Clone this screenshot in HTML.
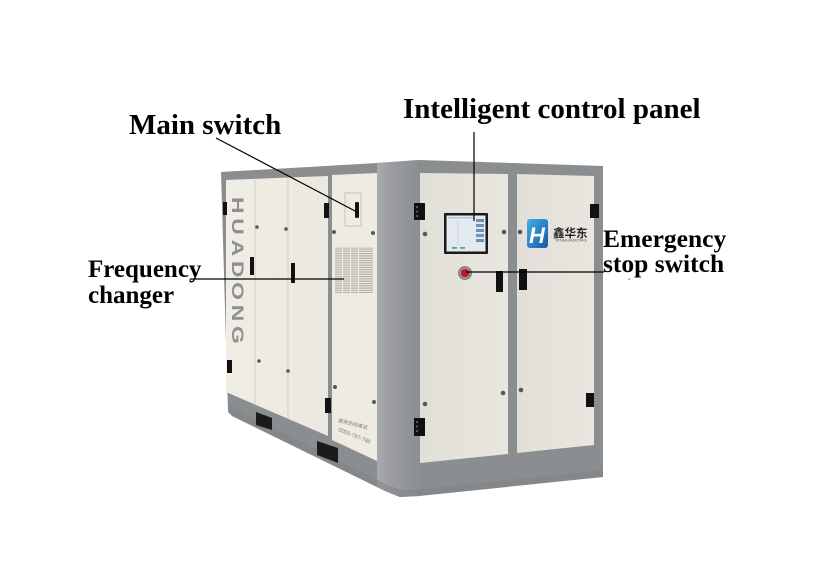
<!DOCTYPE html>
<html><head><meta charset="utf-8">
<style>
html,body{margin:0;padding:0;background:#fff;}
svg{display:block;}
.lbl{font-family:"Liberation Serif",serif;font-weight:bold;fill:#000;}
</style></head><body>
<svg width="822" height="574" viewBox="0 0 822 574" xmlns="http://www.w3.org/2000/svg">
<defs>
<linearGradient id="corner" x1="0" x2="1" y1="0" y2="0">
<stop offset="0" stop-color="#a9abad"/>
<stop offset="0.35" stop-color="#9a9c9f"/>
<stop offset="1" stop-color="#8c8f92"/>
</linearGradient>
<linearGradient id="rdoor" x1="0" x2="1" y1="0" y2="0">
<stop offset="0" stop-color="#e1dfd8"/><stop offset="1" stop-color="#e8e6df"/>
</linearGradient>
<linearGradient id="ldoor" x1="0" x2="1" y1="0" y2="0">
<stop offset="0" stop-color="#f0ede4"/><stop offset="1" stop-color="#ebe8df"/>
</linearGradient>
<pattern id="vent" width="8" height="2.3" patternUnits="userSpaceOnUse">
<rect width="8" height="1.2" fill="#b3b0a8"/>
</pattern>
<linearGradient id="logo" x1="0" y1="0" x2="1" y2="1"><stop offset="0" stop-color="#45aee8"/><stop offset="1" stop-color="#1458a8"/></linearGradient>
</defs>

<!-- silhouette -->
<path d="M221,172 L377,163 L419,160 L603,166 L603,477 L419,496 L400,497 L385,491 L232,416 L228,412 Z" fill="#8b8e91"/>
<!-- corner column -->
<path d="M377,163 L419,160 L419,496 L400,497 L385,491 L377,487 Z" fill="url(#corner)"/>
<!-- base bottom shading -->
<path d="M228,405 L232,416 L385,491 L400,497 L419,496 L603,477 L603,470 L419,489 L400,490 L386,484 Z" fill="#7f8286" opacity="0.5"/>

<!-- left face panels -->
<path d="M226,180 L328,176 L328,436 L226,392 Z" fill="url(#ldoor)"/>
<path d="M332,175 L377,173 L377,461 L332,440 Z" fill="#eeebe2"/>
<line x1="255" y1="179" x2="255" y2="404" stroke="#d2cec4" stroke-width="1"/>
<line x1="288" y1="178" x2="288" y2="419" stroke="#d2cec4" stroke-width="1"/>

<!-- holes in base -->
<path d="M256,412 L272,418 L272,430 L256,425 Z" fill="#1b1b1b"/>
<path d="M317,441 L338,448 L338,463 L317,455 Z" fill="#1b1b1b"/>

<!-- right face doors -->
<path d="M420,173 L508,174 L508,454 L420,463 Z" fill="url(#rdoor)"/>
<path d="M517,174 L594,176 L594,445 L517,453 Z" fill="url(#rdoor)"/>

<!-- HUADONG -->
<text transform="translate(232,197) rotate(90) scale(1.35,1)" font-family="Liberation Sans, sans-serif" font-weight="bold" font-size="17" letter-spacing="3.5" fill="#8f8f8f">HUADONG</text>

<!-- vents -->
<rect x="335" y="247" width="7" height="46" fill="url(#vent)"/>
<rect x="343" y="247" width="7" height="46" fill="url(#vent)"/>
<rect x="351" y="247" width="7" height="46" fill="url(#vent)"/>
<rect x="359" y="247" width="7" height="46" fill="url(#vent)"/>
<rect x="366" y="247" width="7" height="46" fill="url(#vent)"/>

<!-- main switch box -->
<rect x="345" y="193" width="16" height="33" fill="none" stroke="#c6c2b8" stroke-width="1"/>
<rect x="355" y="202" width="4" height="16" rx="1.5" fill="#111"/>

<!-- latches -->
<g fill="#111">
<rect x="223" y="202" width="4" height="13"/>
<rect x="324" y="203" width="5" height="15"/>
<rect x="227" y="360" width="5" height="13"/>
<rect x="325" y="398" width="6" height="15"/>
<rect x="414" y="203" width="11" height="17"/>
<rect x="590" y="204" width="9" height="14"/>
<rect x="414" y="418" width="11" height="18"/>
<rect x="586" y="393" width="8" height="14"/>
</g>
<g fill="#555">
<rect x="416" y="206" width="2" height="2"/><rect x="416" y="210.5" width="2" height="2"/><rect x="416" y="215" width="2" height="2"/>
<rect x="416" y="421" width="2" height="2"/><rect x="416" y="425.5" width="2" height="2"/><rect x="416" y="430" width="2" height="2"/>
</g>

<!-- handles -->
<g fill="#111">
<rect x="250" y="257" width="4" height="18"/>
<rect x="291" y="263" width="4" height="20"/>
<rect x="496" y="271" width="7" height="21"/>
<rect x="519" y="269" width="8" height="21"/>
</g>

<!-- screws -->
<g fill="#575859">
<circle cx="257" cy="227" r="1.8"/><circle cx="286" cy="229" r="1.8"/>
<circle cx="334" cy="232" r="2"/><circle cx="373" cy="233" r="2"/>
<circle cx="259" cy="361" r="1.8"/><circle cx="288" cy="371" r="1.8"/>
<circle cx="335" cy="387" r="2"/><circle cx="374" cy="402" r="2"/>
<circle cx="425" cy="234" r="2.3"/><circle cx="504" cy="232" r="2.3"/><circle cx="520" cy="232" r="2.3"/>
<circle cx="425" cy="404" r="2.3"/><circle cx="503" cy="393" r="2.3"/><circle cx="521" cy="390" r="2.3"/>
</g>

<!-- small text on panel -->
<text transform="translate(338,422) rotate(14)" font-family="Liberation Sans, 'Noto Sans CJK SC', sans-serif" font-size="5" fill="#7a7a7a">服务热线电话:</text>
<text transform="translate(338,431) rotate(22)" font-family="Liberation Sans, sans-serif" font-size="5.5" fill="#7a7a7a">0000-797-788</text>

<!-- screen -->
<rect x="444" y="213" width="44" height="41" rx="1" fill="#1a1a1a"/>
<rect x="446.5" y="215.5" width="39" height="36" fill="#e3e9f0"/>
<g fill="#6b90bb">
<rect x="476" y="219" width="8" height="3"/><rect x="476" y="224" width="8" height="3"/>
<rect x="476" y="229" width="8" height="3"/><rect x="476" y="234" width="8" height="3"/>
<rect x="476" y="239" width="8" height="3"/>
</g>
<rect x="448" y="217" width="26" height="1.5" fill="#b8c6d6"/>
<line x1="458" y1="221" x2="458" y2="245" stroke="#c9c0d8" stroke-width="0.7"/>
<g fill="#55b060"><rect x="452" y="247" width="5" height="1.8"/><rect x="460" y="247" width="5" height="1.8"/></g>

<!-- logo -->
<rect x="527" y="219" width="21" height="29" rx="3" fill="url(#logo)"/>
<text x="529" y="243" font-family="Liberation Sans, sans-serif" font-weight="bold" font-style="italic" font-size="22" fill="#fff">H</text>
<text x="553" y="237" font-family="Liberation Sans, 'Noto Sans CJK SC', sans-serif" font-weight="bold" font-size="11.5" fill="#222">鑫华东</text>
<text x="555" y="241.5" font-family="Liberation Sans, sans-serif" font-size="3.5" fill="#555" textLength="32" lengthAdjust="spacingAndGlyphs">XINHUADONG</text>

<!-- red button -->
<circle cx="465" cy="273" r="6.5" fill="#8f9193" stroke="#707274" stroke-width="0.8"/>
<circle cx="465" cy="273" r="4" fill="#cf1220"/>

<!-- leader lines -->
<g stroke="#000" stroke-width="1.2" fill="none">
<line x1="216" y1="138" x2="357" y2="212"/>
<line x1="474" y1="132" x2="474" y2="221"/>
<line x1="466" y1="272" x2="604" y2="272"/>
<line x1="190" y1="279" x2="344" y2="279"/>
</g>
<rect x="628.5" y="278.5" width="1.2" height="1.2" fill="#333"/>

<!-- labels -->
<text class="lbl" x="129" y="134" font-size="29">Main switch</text>
<text class="lbl" x="403" y="118" font-size="29">Intelligent control panel</text>
<text class="lbl" x="603" y="247" font-size="25.5">Emergency</text>
<text class="lbl" x="603" y="272" font-size="25.5">stop switch</text>
<text class="lbl" x="88" y="277" font-size="25">Frequency</text>
<text class="lbl" x="88" y="303" font-size="25">changer</text>
</svg>
</body></html>
